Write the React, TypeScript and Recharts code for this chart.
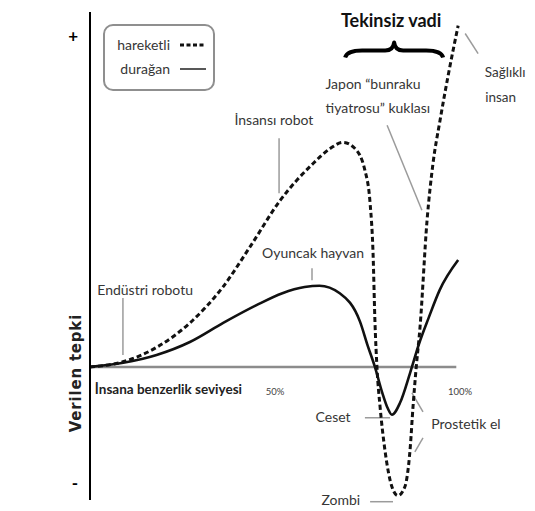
import React from 'react';
import { LineChart, Line, XAxis, YAxis, Legend, ReferenceLine, ReferenceDot } from 'recharts';

// hareketli (moving) curve: human likeness % -> response
const movingLikeness = [0, 8.9, 18.1, 27, 35.9, 43.2, 51.4, 60.3, 64.9, 68.4, 71.6, 74.3, 75.7, 76.5, 77.0, 77.6, 78.4, 79.7, 81.6, 83.2, 85.1, 86.5, 87.3, 88.1, 89.2, 91.1, 92.7, 94.6, 96.8, 99.5];
const movingResponse = [0, 1.5, 5.8, 12.9, 23.4, 35.1, 48.8, 59.6, 64, 65.8, 64, 57.6, 48, 33.3, 13.7, -0.9, -11.7, -24.3, -35.1, -37.7, -35.1, -24.3, -11.7, -0.9, 11.7, 43, 59.6, 72.2, 85.4, 100];

// durağan (still) curve
const stillLikeness = [0, 9, 18, 27, 36, 45, 52, 58, 62, 67.5, 73, 75, 77, 79, 80.5, 81.6, 83.8, 86.5, 89, 91.5, 94.5, 99.5];
const stillResponse = [0, 1.2, 3.5, 7.3, 12.9, 18.1, 21.6, 23.4, 23.8, 21.6, 13.2, 6.4, 0, -7.6, -12.2, -14, -10.5, -1.8, 7, 14.3, 22.5, 31.3];

const yTicks = [97, -34];
const xTickLabels = ['50%', '100%'];
const xTickValues = [50, 100];
const seriesOrder = ['hareketli', 'durağan'];

const movingData = movingLikeness.map((x, i) => ({ x, y: movingResponse[i] }));
const stillData = stillLikeness.map((x, i) => ({ x, y: stillResponse[i] }));

const FONT = "Lato, 'Noto Sans', sans-serif";
const LABEL = '#363636';
const LEADER = '#9b9b9b';

// text annotations, placed in chart coordinates
const notes = [
  { text: 'Tekinsiz vadi', x: 81.4, y: 101.5, size: 18, bold: true, color: '#111' },
  { text: 'Japon \u201Cbunraku', x: 76.5, y: 83.0, size: 14 },
  { text: 'tiyatrosu\u201D kuklası', x: 77.8, y: 76.0, size: 14 },
  { text: 'Sağlıklı', x: 112.2, y: 86.4, size: 13.5 },
  { text: 'insan', x: 111.0, y: 79.0, size: 13.5 },
  { text: 'İnsansı robot', x: 49.7, y: 72.2, size: 14 },
  { text: 'Oyuncak hayvan', x: 60.3, y: 33.3, size: 14 },
  { text: 'Endüstri robotu', x: 14.9, y: 22.5, size: 14 },
  { text: 'İnsana benzerlik seviyesi', x: 21.2, y: -6.4, size: 13.5, bold: true, color: '#222' },
  { text: 'Ceset', x: 65.7, y: -14.6, size: 14 },
  { text: 'Prostetik el', x: 101.6, y: -16.7, size: 14 },
  { text: 'Zombi', x: 67.8, y: -39.0, size: 14 },
];

const leaders = [
  [101.4, 97.7, 104.9, 91.8],
  [80.3, 70.8, 89.7, 45.9],
  [51.1, 67.0, 51.1, 50.9],
  [60.0, 28.9, 60.0, 25.4],
  [8.9, 20.2, 8.9, 3.5],
  [74.3, -14.9, 81.1, -14.9],
  [87.0, -7.6, 90.0, -13.2],
  [87.8, -24.9, 90.0, -20.8],
  [75.7, -39.5, 81.9, -39.5],
];

const dashFor: Record<string, string | undefined> = { hareketli: '4 2.5', durağan: undefined };

const renderLegend = (props: any) => {
  const items = [...(props.payload || [])].sort(
    (a: any, b: any) => seriesOrder.indexOf(a.value) - seriesOrder.indexOf(b.value)
  );
  return (
    <div
      style={{
        width: 112,
        height: 67,
        boxSizing: 'border-box',
        border: '2px solid #8f8f8f',
        borderRadius: 10,
        paddingTop: 7,
        fontFamily: FONT,
        fontSize: 14,
        color: LABEL,
        background: '#fff',
      }}
    >
      {items.map((e: any) => (
        <div key={e.value} style={{ display: 'flex', alignItems: 'center', height: 24 }}>
          <span style={{ width: 65, textAlign: 'right', lineHeight: '24px' }}>{e.value}</span>
          <svg width={26} height={4} style={{ marginLeft: 10 }}>
            <line
              x1={0}
              y1={2}
              x2={26}
              y2={2}
              stroke="#111"
              strokeWidth={dashFor[e.value] ? 3 : 1.4}
              strokeDasharray={dashFor[e.value]}
            />
          </svg>
        </div>
      ))}
    </div>
  );
};

const Brace = (p: any) => {
  const { cx, cy } = p;
  const d = `M${cx - 49},${cy + 7} Q${cx - 47},${cy} ${cx - 32},${cy} L${cx - 9},${cy} Q${cx - 1},${cy} ${cx},${cy - 8} Q${cx + 1},${cy} ${cx + 9},${cy} L${cx + 32},${cy} Q${cx + 47},${cy} ${cx + 49},${cy + 7}`;
  return <path d={d} fill="none" stroke="#000" strokeWidth={4} strokeLinejoin="round" />;
};

export default function App() {
  return (
    <div style={{ position: 'absolute', left: 0, top: 0, width: 535, height: 511, background: '#fff' }}>
      <LineChart width={535} height={511} margin={{ top: 12, right: 1, bottom: 11, left: 60 }}>
        <XAxis dataKey="x" type="number" domain={[0, 120]} hide allowDataOverflow />
        <YAxis
          type="number"
          domain={[-39, 104]}
          ticks={yTicks}
          interval={0}
          width={30}
          axisLine={{ stroke: '#000', strokeWidth: 2 }}
          tickLine={false}
          tickSize={0}
          tickMargin={12}
          tickFormatter={(v) => (v > 0 ? '+' : '-')}
          tick={{ fontSize: 17, fontWeight: 700, fill: '#000', fontFamily: FONT }}
        />
        <Legend
          layout="vertical"
          align="center"
          verticalAlign="middle"
          content={renderLegend}
          wrapperStyle={{ left: 103, top: 24, width: 112 }}
        />

        <ReferenceLine
          segment={[{ x: 0, y: 0 }, { x: 99, y: 0 }]}
          stroke="#8c8c8c"
          strokeWidth={2.5}
          ifOverflow="visible"
        />

        {leaders.map(([x1, y1, x2, y2], i) => (
          <ReferenceLine
            key={'l' + i}
            segment={[{ x: x1, y: y1 }, { x: x2, y: y2 }]}
            stroke={LEADER}
            strokeWidth={1.5}
            ifOverflow="visible"
          />
        ))}

        <Line
          data={movingData}
          dataKey="y"
          name="hareketli"
          type="monotone"
          stroke="#111"
          strokeWidth={3}
          strokeDasharray="5 3"
          dot={false}
          activeDot={false}
          isAnimationActive={false}
        />
        <Line
          data={stillData}
          dataKey="y"
          name="durağan"
          type="monotone"
          stroke="#111"
          strokeWidth={2.6}
          dot={false}
          activeDot={false}
          isAnimationActive={false}
        />

        {xTickValues.map((v, i) => (
          <ReferenceDot
            key={'t' + v}
            x={v}
            y={-7.3}
            r={1}
            fill="none"
            stroke="none"
            ifOverflow="visible"
            label={{ value: xTickLabels[i], position: 'center', fill: '#444', fontSize: 9.5, fontFamily: FONT }}
          />
        ))}

        {notes.map((n) => (
          <ReferenceDot
            key={n.text}
            x={n.x}
            y={n.y}
            r={1}
            fill="none"
            stroke="none"
            ifOverflow="visible"
            label={{
              value: n.text,
              position: 'center',
              fill: n.color || LABEL,
              fontSize: n.size,
              fontWeight: n.bold ? 700 : 400,
              fontFamily: FONT,
            }}
          />
        ))}

        <ReferenceDot x={82.2} y={92.7} r={1} ifOverflow="visible" shape={Brace} />

        <ReferenceDot
          x={-3.8}
          y={-1.8}
          r={1}
          fill="none"
          stroke="none"
          ifOverflow="visible"
          label={{
            value: 'Verilen tepki',
            position: 'center',
            angle: -90,
            fill: '#222',
            fontSize: 15,
            fontWeight: 700,
            letterSpacing: 0.8,
            fontFamily: "'DejaVu Sans', Verdana, sans-serif",
          }}
        />
      </LineChart>
    </div>
  );
}
